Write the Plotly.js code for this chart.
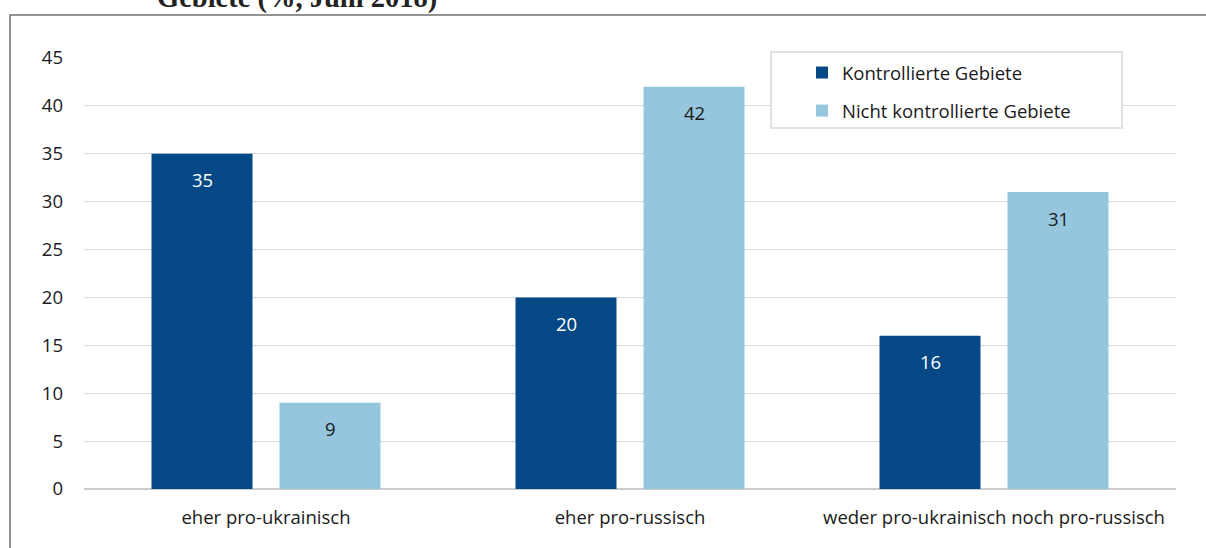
<!DOCTYPE html>
<html>
<head>
<meta charset="utf-8">
<script src="https://cdn.plot.ly/plotly-3.0.1.min.js"></script>
<style>
html,body{margin:0;padding:0;background:#fff;}
#chart{width:1206px;height:548px;}
</style>
</head>
<body>
<div id="chart"></div>
<script>
const categories = ["eher pro-ukrainisch", "eher pro-russisch", "weder pro-ukrainisch noch pro-russisch"];
const seriesNames = ["Kontrollierte Gebiete", "Nicht kontrollierte Gebiete"];
const kontrolliert = [35, 20, 16];
const nichtKontrolliert = [9, 42, 31];
const yTicks = [0, 5, 10, 15, 20, 25, 30, 35, 40, 45];
const titleText = "Gebiete (%, Juni 2018)";

const colors = ["#044886", "#95C6DE"];
const labelColors = ["#ffffff", "#1a1a1a"];
const FONT = "Open Sans, sans-serif";
const FS = 18.5;

const traces = [
  {type: "bar", name: seriesNames[0], x: categories, y: kontrolliert,
   marker: {color: colors[0]}, legendgroup: "a", hoverinfo: "none"},
  {type: "bar", name: seriesNames[1], x: categories, y: nichtKontrolliert,
   marker: {color: colors[1]}, legendgroup: "b", hoverinfo: "none"}
];

const annotations = [];
[kontrolliert, nichtKontrolliert].forEach((vals, si) => {
  vals.forEach((v, i) => {
    annotations.push({
      x: categories[i], y: v, xref: "x", yref: "y",
      xshift: si === 0 ? -64 : 64, yshift: -26,
      text: String(v), showarrow: false,
      font: {family: FONT, size: FS, color: labelColors[si]}
    });
  });
});
annotations.push({
  xref: "paper", yref: "paper", x: (155 - 84) / 1092, y: (489 - 16) / 431,
  xanchor: "left", yanchor: "bottom", showarrow: false,
  text: "<b>" + titleText + "</b>",
  font: {family: "Liberation Serif, serif", size: 28.5, color: "#222"}
});

const layout = {
  width: 1206, height: 548,
  margin: {l: 84, r: 30, t: 58, b: 59},
  paper_bgcolor: "#fff", plot_bgcolor: "#fff",
  barmode: "group", bargap: 0.2967, bargroupgap: 0.211,
  font: {family: FONT, size: FS, color: "#1a1a1a"},
  xaxis: {
    type: "category", showgrid: false, showline: false, ticks: "",
    ticklabelstandoff: 15, tickfont: {family: FONT, size: FS, color: "#1a1a1a"}
  },
  yaxis: {
    range: [0, 45], tickvals: yTicks, ticktext: yTicks.map(String),
    showgrid: true, gridcolor: "#d9d9d9", gridwidth: 1,
    zeroline: true, zerolinecolor: "#cccccc", zerolinewidth: 1.5,
    showline: false, ticks: "", ticklabelstandoff: 20,
    tickfont: {family: FONT, size: FS, color: "#1a1a1a"}
  },
  showlegend: true,
  legend: {
    x: (802 - 84) / 1092, y: (489 - 54) / 431, xanchor: "left", yanchor: "top",
    bgcolor: "rgba(0,0,0,0)", borderwidth: 0,
    font: {family: FONT, size: FS, color: "#1a1a1a"},
    traceorder: "grouped", tracegroupgap: 11
  },
  shapes: [
    {type: "rect", xref: "paper", yref: "paper",
     x0: (771 - 84) / 1092, x1: (1122 - 84) / 1092,
     y0: (489 - 128) / 431, y1: (489 - 52) / 431,
     fillcolor: "#ffffff", line: {color: "#d9d9d9", width: 1.5}, layer: "above"},
    {type: "rect", xref: "paper", yref: "paper",
     x0: (10 - 84) / 1092, x1: (1215 - 84) / 1092,
     y0: (489 - 560) / 431, y1: (489 - 15) / 431,
     fillcolor: "rgba(0,0,0,0)", line: {color: "#707070", width: 1.5}, layer: "above"}
  ],
  annotations: annotations
};

Plotly.newPlot("chart", traces, layout, {displayModeBar: false, staticPlot: true});
</script>
</body>
</html>
